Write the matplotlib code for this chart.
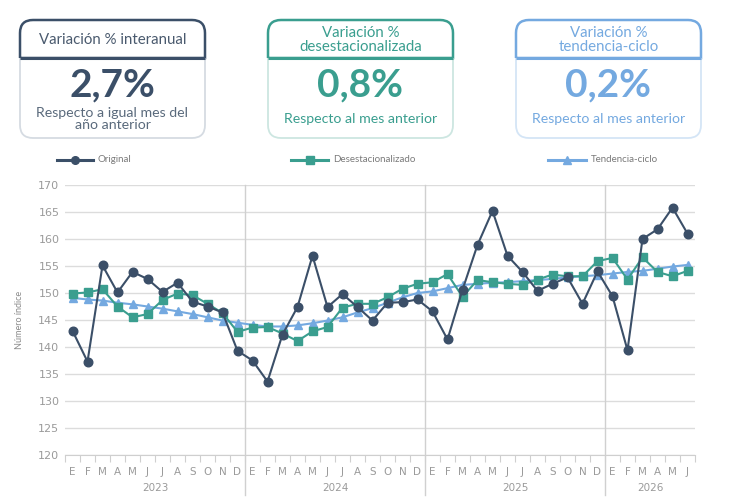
import matplotlib
matplotlib.use("Agg")
import matplotlib.pyplot as plt
from matplotlib.path import Path
from matplotlib.patches import PathPatch

# ── data ─────────────────────────────────────────────────────────────────────
months = ["E", "F", "M", "A", "M", "J", "J", "A", "S", "O", "N", "D"] * 3 + ["E", "F", "M", "A", "M", "J"]
years = ["2023", "2024", "2025", "2026"]
year_len = [12, 12, 12, 6]

original = [143.0, 137.3, 155.1, 150.1, 153.9, 152.6, 150.2, 151.9, 148.4, 147.5, 146.4, 139.3,
            137.5, 133.6, 142.3, 147.4, 156.9, 147.4, 149.8, 147.4, 144.9, 148.2, 148.3, 148.8,
            146.6, 141.4, 150.6, 158.9, 165.2, 156.9, 153.9, 150.4, 151.7, 152.9, 148.0, 154.0,
            149.4, 139.4, 160.0, 161.8, 165.8, 161.0]
desest = [149.9, 150.1, 150.7, 147.5, 145.5, 146.1, 148.7, 149.9, 149.6, 148.0, 146.3, 142.8,
          143.6, 143.7, 142.5, 141.1, 142.9, 143.7, 147.3, 148.0, 148.0, 149.2, 150.8, 151.7,
          152.0, 153.5, 149.3, 152.4, 152.0, 151.7, 151.5, 152.5, 153.4, 153.1, 153.1, 155.9,
          156.5, 152.5, 156.6, 153.9, 153.1, 154.1]
tendencia = [149.1, 148.8, 148.6, 148.2, 147.9, 147.5, 147.1, 146.6, 146.1, 145.5, 144.9, 144.5,
             144.1, 143.8, 143.8, 144.0, 144.4, 144.9, 145.5, 146.4, 147.2, 148.2, 149.2, 150.0,
             150.3, 150.9, 151.5, 151.7, 151.9, 152.0, 152.2, 152.4, 152.6, 152.9, 153.1, 153.3,
             153.6, 153.9, 154.1, 154.5, 154.9, 155.2]

series_names = ["Original", "Desestacionalizado", "Tendencia-ciclo"]
kpi_titles = ["Variación % interanual", "Variación %\ndesestacionalizada", "Variación %\ntendencia-ciclo"]
kpi_values = ["2,7%", "0,8%", "0,2%"]
kpi_notes = ["Respecto a igual mes del\naño anterior", "Respecto al mes anterior", "Respecto al mes anterior"]

C_ORIG = "#3b4f68"
C_DES = "#3a9e8f"
C_TEN = "#74a9e0"
LIGHT = ["#d5dbe2", "#cde6e1", "#d4e5f6"]
GRID = "#dcdcdc"
TICK = "#9a9a9a"

W, H = 730, 503
fig = plt.figure(figsize=(W / 100, H / 100), dpi=100)

# overlay in pixel coordinates for the KPI boxes and legend
ov = fig.add_axes([0, 0, 1, 1])
ov.set_xlim(0, W)
ov.set_ylim(H, 0)
ov.axis("off")

UI_FONT = ["Lato", "DejaVu Sans"]


def kpi_box(x0, x1, y0, yh, y1, color, light, title, value, note, title_color, note_color):
    r = 13
    head = Path([(x0, yh), (x0, y0 + r), (x0, y0), (x0 + r, y0), (x1 - r, y0), (x1, y0),
                 (x1, y0 + r), (x1, yh), (x0, yh)],
                [Path.MOVETO, Path.LINETO, Path.CURVE3, Path.CURVE3, Path.LINETO, Path.CURVE3,
                 Path.CURVE3, Path.LINETO, Path.LINETO])
    ov.add_patch(PathPatch(head, facecolor="white", edgecolor=color, lw=1.8))
    body = Path([(x0, yh), (x0, y1 - r), (x0, y1), (x0 + r, y1), (x1 - r, y1), (x1, y1),
                 (x1, y1 - r), (x1, yh)],
                [Path.MOVETO, Path.LINETO, Path.CURVE3, Path.CURVE3, Path.LINETO, Path.CURVE3,
                 Path.CURVE3, Path.LINETO])
    ov.add_patch(PathPatch(body, facecolor="none", edgecolor=light, lw=1.3))
    ov.plot([x0, x1], [yh, yh], color=color, lw=2.2, solid_capstyle="butt")
    cx = (x0 + x1) / 2
    ov.text(cx, (y0 + yh) / 2 + 1, title, ha="center", va="center", fontsize=10.8,
            color=title_color, family=UI_FONT, linespacing=0.95)
    ov.text(cx, 85, value, ha="center", va="center", fontsize=28, fontweight="bold",
            color=color, family=UI_FONT)
    ov.text(cx, 119, note, ha="center", va="center", fontsize=10.2, color=note_color,
            family=UI_FONT, linespacing=0.95)


kpi_box(20, 205, 20, 58, 138, C_ORIG, LIGHT[0], kpi_titles[0], kpi_values[0], kpi_notes[0],
        "#4a5a6e", "#5a6a7c")
kpi_box(268, 453, 20, 58, 138, C_DES, LIGHT[1], kpi_titles[1], kpi_values[1], kpi_notes[1],
        C_DES, C_DES)
kpi_box(516, 701, 20, 58, 138, C_TEN, LIGHT[2], kpi_titles[2], kpi_values[2], kpi_notes[2],
        C_TEN, C_TEN)

# legend (manual, pixel positions)
leg_items = [(57, 93, C_ORIG, "o", 5.5), (291, 328, C_DES, "s", 5.5), (548, 586, C_TEN, "^", 5.5)]
for (lx0, lx1, col, mk, ms), name in zip(leg_items, series_names):
    ov.plot([lx0, (lx0 + lx1) / 2, lx1], [160, 160, 160], color=col, lw=2.2, marker=mk,
            ms=ms, markevery=[1])
    ov.text(lx1 + 5, 160, name, ha="left", va="center", fontsize=7, color="#7a7a7a",
            family=UI_FONT)

# ── main chart ───────────────────────────────────────────────────────────────
ax = fig.add_axes([65 / W, 1 - 455 / H, 630 / W, 270 / H])
x = list(range(len(months)))

ax.plot(x, tendencia, color=C_TEN, lw=1.5, marker="^", ms=6, zorder=3)
ax.plot(x, desest, color=C_DES, lw=1.5, marker="s", ms=5.8, zorder=4)
ax.plot(x, original, color=C_ORIG, lw=1.5, marker="o", ms=6.2, zorder=5)

ax.set_xlim(-0.5, len(months) - 0.5)
ax.set_ylim(120, 170)
ax.set_yticks(range(120, 171, 5))
ax.grid(axis="y", color=GRID, lw=1)
ax.set_axisbelow(True)
for s in ["top", "right", "left"]:
    ax.spines[s].set_visible(False)
ax.spines["bottom"].set_color("#cfcfcf")

TICK_FONT = ["Liberation Sans Narrow", "DejaVu Sans"]
ax.tick_params(axis="y", length=0, labelsize=8, labelcolor=TICK, pad=4)
for lab in ax.get_yticklabels():
    lab.set_family(TICK_FONT)

# month ticks at boundaries, labels at centres
ax.set_xticks([i - 0.5 for i in range(len(months) + 1)])
ax.set_xticklabels([])
ax.tick_params(axis="x", length=5, color="#cfcfcf", width=0.8)
for i, m in enumerate(months):
    ax.text(i, -0.063, m, transform=ax.get_xaxis_transform(), ha="center", va="center",
            fontsize=7.5, color=TICK, family=TICK_FONT)

start = 0
for yr, n in zip(years, year_len):
    ax.text(start + (n - 1) / 2, -0.122, yr, transform=ax.get_xaxis_transform(),
            ha="center", va="center", fontsize=7.5, color=TICK, family=TICK_FONT)
    if start > 0:
        ax.plot([start - 0.5, start - 0.5], [-0.148, 1], transform=ax.get_xaxis_transform(),
                color="#d0d0d0", lw=1, clip_on=False, zorder=1)
    start += n

ax.set_ylabel("Número índice", fontsize=6.5, color="#8a8a8a", family=UI_FONT, labelpad=10)

fig.savefig("out.png", dpi=100)
